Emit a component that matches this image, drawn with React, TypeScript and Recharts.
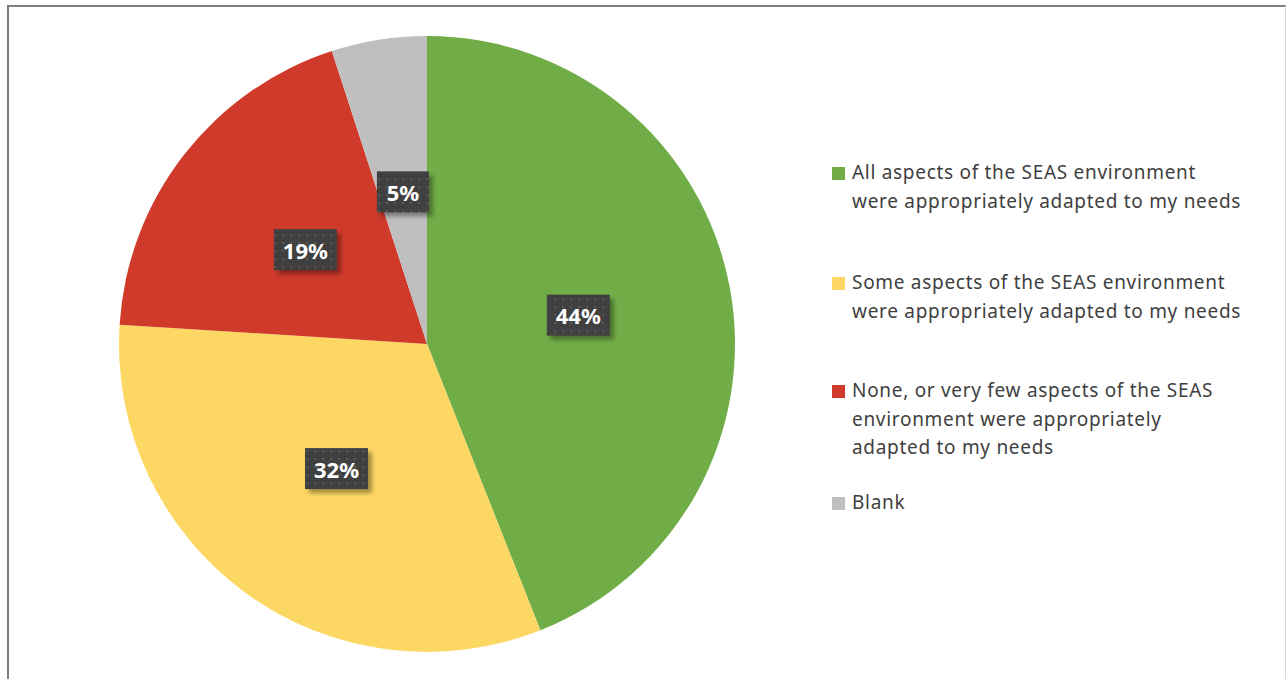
import * as React from "react"
import { PieChart, Pie, Cell, Legend } from "recharts"

const categories = [
  "All aspects of the SEAS environment were appropriately adapted to my needs",
  "Some aspects of the SEAS environment were appropriately adapted to my needs",
  "None, or very few aspects of the SEAS environment were appropriately adapted to my needs",
  "Blank",
]
const shares = [44, 32, 19, 5]
const sliceColors = ["#70AD47", "#FDD764", "#CF3A2A", "#BFBFBF"]
// legend text as it wraps in the original
const legendLines = [
  ["All aspects of the SEAS environment", "were appropriately adapted to my needs"],
  ["Some aspects of the SEAS environment", "were appropriately adapted to my needs"],
  ["None, or very few aspects of the SEAS", "environment were appropriately", "adapted to my needs"],
  ["Blank"],
]

const data = categories.map((name, i) => ({ name, value: shares[i] }))

const RADIAN = Math.PI / 180

const renderLabel = (props: any) => {
  const { cx, cy, midAngle, outerRadius, percent } = props
  const r = outerRadius * 0.5
  const x = cx + r * Math.cos(-midAngle * RADIAN)
  const y = cy + r * Math.sin(-midAngle * RADIAN)
  const text = `${Math.round(percent * 100)}%`
  const w = text.length * 11 + 30
  const h = 41
  return (
    <g>
      <rect x={x - w / 2 + 4} y={y - h / 2 + 4} width={w} height={h} fill="rgba(0,0,0,0.35)" filter="url(#lblShadow)" />
      <rect x={x - w / 2} y={y - h / 2} width={w} height={h} fill="#404040" />
      <rect x={x - w / 2} y={y - h / 2} width={w} height={h} fill="url(#lblDots)" />
      <text
        x={x}
        y={y}
        fill="#ffffff"
        textAnchor="middle"
        dominantBaseline="central"
        fontFamily="'Noto Sans', sans-serif"
        fontWeight={700}
        fontSize={22}
      >
        {text}
      </text>
    </g>
  )
}

const legendTops = [158, 268, 376, 488]

const renderLegend = () => (
  <div style={{ position: "relative", width: 440, height: 380, fontFamily: "'Noto Sans', sans-serif", fontSize: 19, letterSpacing: 0.7, color: "#404040" }}>
    {legendLines.map((lines, i) => (
      <div key={i} style={{ position: "absolute", left: 0, top: legendTops[i] - 158, lineHeight: "28.5px" }}>
        <span style={{ position: "absolute", left: 0, top: 9, width: 13, height: 13, background: sliceColors[i] }} />
        <div style={{ marginLeft: 20, whiteSpace: "nowrap" }}>
          {lines.map((l, j) => (
            <div key={j}>{l}</div>
          ))}
        </div>
      </div>
    ))}
  </div>
)

export default function App() {
  return (
    <div style={{ position: "fixed", left: 0, top: 0, width: 1286, height: 679, background: "#ffffff", overflow: "hidden" }}>
      <div
        style={{
          position: "absolute",
          left: 7,
          top: 5,
          width: 1276,
          height: 720,
          borderTop: "2px solid #7f7f7f",
          borderLeft: "2px solid #7f7f7f",
          borderRight: "1px solid #d9d9d9",
        }}
      />
      <div style={{ position: "absolute", left: 0, top: 0 }}>
        <PieChart width={1286} height={679} margin={{ top: 0, right: 0, bottom: 0, left: 0 }}>
          <defs>
            <pattern id="lblDots" width="8" height="8" patternUnits="userSpaceOnUse">
              <rect x="2" y="2" width="2" height="2" fill="#5a5a5a" />
            </pattern>
            <filter id="lblShadow" x="-20%" y="-20%" width="140%" height="140%">
              <feGaussianBlur stdDeviation="2" />
            </filter>
          </defs>
          <Pie
            data={data}
            dataKey="value"
            nameKey="name"
            cx={427}
            cy={344}
            outerRadius={308}
            startAngle={90}
            endAngle={-270}
            stroke="none"
            label={renderLabel}
            labelLine={false}
            isAnimationActive={false}
          >
            {data.map((d, i) => (
              <Cell key={d.name} fill={sliceColors[i]} />
            ))}
          </Pie>
          <Legend
            content={renderLegend}
            wrapperStyle={{ position: "absolute", left: 832, top: 158, width: 440, height: 380 }}
          />
        </PieChart>
      </div>
    </div>
  )
}
